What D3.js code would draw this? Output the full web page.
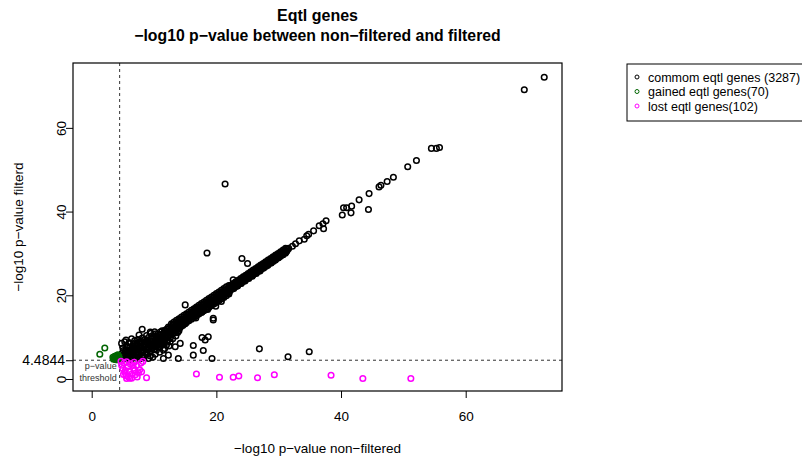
<!DOCTYPE html>
<html>
<head>
<meta charset="utf-8">
<script src="https://cdn.jsdelivr.net/npm/d3@7"></script>
<style>
  body { margin: 0; background: #fff; }
  svg text { font-family: "Liberation Sans", Arial, Helvetica, sans-serif; fill: #000; }
</style>
</head>
<body>
<div id="chart"></div>
<script>
// values
const threshold = 4.4844;
const xTicks = [0, 20, 40, 60];
const yTicks = [0, 20, 40, 60];
const legendLabels = ["commom eqtl genes (3287)", "gained eqtl genes(70)", "lost eqtl genes(102)"];

// common genes [non-filtered, filtered]
const commonPts = [
  // low cluster
  [4.7,5.0],[4.9,6.2],[5.0,7.4],[5.2,4.8],[5.3,5.9],[5.5,7.0],[5.6,8.0],[5.8,5.2],[5.9,6.4],[6.1,7.6],
  [6.2,4.7],[6.4,5.8],[6.5,7.1],[6.7,8.4],[6.8,6.0],[7.0,5.0],[7.1,7.3],[7.3,8.6],[7.4,6.4],[7.6,5.3],
  [7.7,7.8],[7.9,9.0],[8.0,6.8],[8.2,5.6],[8.3,8.2],[8.5,9.4],[8.6,7.2],[8.8,6.0],[8.9,8.6],[9.1,9.9],
  [9.2,7.6],[9.4,6.5],[9.5,9.0],[9.7,10.3],[9.8,8.1],[10.0,7.0],[10.2,9.5],[10.3,10.8],[10.5,8.6],[10.7,7.6],
  [10.8,10.0],[11.0,11.2],[11.2,9.1],[11.4,8.2],[11.5,10.5],[11.7,11.6],[11.9,9.7],[12.1,8.8],[12.2,11.0],[12.4,12.1],
  [5.0,5.6],[5.4,6.6],[5.7,7.5],[6.0,5.5],[6.3,6.6],[6.6,7.8],[6.9,6.9],[7.2,5.7],[7.5,7.0],[7.8,8.3],
  [8.1,6.2],[8.4,7.5],[8.7,8.9],[9.0,7.0],[9.3,8.3],[9.6,9.6],[9.9,7.5],[10.1,8.8],[10.4,10.2],[10.6,9.3],
  [10.9,8.4],[11.1,10.6],[11.3,9.7],[11.6,11.1],[11.8,10.2],[12.0,11.4],[12.3,10.4],[12.5,11.6],
  [6.0,8.7],[6.9,9.2],[7.4,9.4],[8.1,9.8],[8.8,10.4],[9.5,10.9],[10.1,11.3],
  [5.3,5.0],[6.6,5.2],[8.0,5.3],[9.4,5.5],[10.2,5.9],[10.9,6.4],[11.7,7.3],[12.4,7.9],[13.0,9.6],[13.5,10.3],[13.0,10.9],[14.0,11.5],
  [5.6,4.9],[6.3,4.7],[7.7,4.8],[8.4,5.1],[9.1,4.9],[9.8,5.2],[11.5,4.9],[13.9,4.9],
  [5.1,6.8],[5.7,6.0],[6.2,7.0],[6.5,6.2],[7.0,7.9],[7.3,6.6],[7.6,8.9],[7.9,7.4],[8.3,6.6],[8.6,8.1],
  [9.0,9.3],[9.2,8.5],[9.6,7.1],[9.9,9.1],[10.3,7.9],[10.6,10.7],[11.0,9.6],[11.3,11.5],[11.6,8.8],[12.0,10.0],
  [12.3,12.4],[12.6,9.8],[12.9,11.5],[13.3,11.0],[13.7,11.7],[14.2,12.3],[14.6,12.8],[15.0,13.2],[6.4,9.6],[5.5,9.3],
  [5.4,5.4],[5.9,5.8],[6.3,5.2],[6.7,6.6],[7.1,6.0],[7.5,5.8],[7.9,6.4],[8.3,7.0],[8.7,6.5],[9.1,7.3],
  [9.5,7.8],[9.9,8.4],[10.3,9.0],[10.7,8.2],[11.1,8.9],[11.5,9.4],[11.9,10.6],[12.2,9.3],[6.0,6.1],[6.8,7.4],
  [7.2,8.1],[8.0,8.6],[8.8,9.3],[9.7,9.7],[10.5,9.8],[11.3,10.2],[12.0,11.9],[12.7,10.5],[13.3,12.3],[13.8,11.1],
  // mid band
  [12.6,11.2],[12.8,12.1],[13.0,13.0],[13.2,11.8],[13.4,12.7],[13.6,13.6],[13.8,12.4],[14.0,13.3],[14.2,14.2],[14.4,13.0],
  [14.6,13.9],[14.8,14.8],[15.0,13.6],[15.2,14.5],[15.4,15.4],[15.6,14.2],[15.8,15.1],[16.0,16.0],[16.2,14.8],[16.4,15.7],
  [16.6,16.6],[16.8,15.4],[17.0,16.3],[17.2,17.2],[17.4,16.0],[17.6,16.9],[17.8,17.8],[18.0,16.6],[18.2,17.5],[18.4,18.4],
  [18.6,17.2],[18.8,18.1],[19.0,19.0],[19.2,17.8],[19.4,18.7],[19.6,19.6],[19.8,18.4],[20.0,19.3],[20.2,20.2],[20.4,19.0],
  [20.6,19.9],[20.8,20.8],[21.0,19.6],[21.2,20.5],[21.4,21.3],[21.6,20.3],[21.8,21.1],[22.0,21.8],
  [12.7,11.6],[12.7,12.3],[13.1,12.0],[13.1,12.8],[13.5,12.4],[13.5,13.2],[13.9,12.8],[13.9,13.6],[14.3,13.2],[14.3,14.0],
  [14.7,13.6],[14.7,14.4],[15.1,14.0],[15.1,14.8],[15.5,14.4],[15.5,15.2],[15.9,14.8],[15.9,15.6],[16.3,15.2],[16.3,16.0],
  [16.7,15.6],[16.7,16.4],[17.1,16.0],[17.1,16.8],[17.5,16.4],[17.5,17.2],[17.9,16.8],[17.9,17.6],[18.3,17.2],[18.3,18.0],
  [18.7,17.6],[18.7,18.4],[19.1,18.0],[19.1,18.8],[19.5,18.4],[19.5,19.2],[19.9,18.8],[19.9,19.6],[20.3,19.2],[20.3,20.0],
  [20.7,19.6],[20.7,20.4],[21.1,20.0],[21.1,20.8],[21.5,20.4],[21.5,21.2],[21.9,20.8],[21.9,21.6],
  [12.8,13.2],[12.8,11.1],[13.2,13.6],[13.2,11.5],[13.6,14.0],[13.6,11.9],[14.0,14.4],[14.0,12.3],[14.4,14.8],[14.4,12.7],
  [14.8,15.2],[14.8,13.1],[15.2,15.6],[15.2,13.5],[15.6,16.0],[15.6,13.9],[16.0,16.4],[16.0,14.3],[16.4,16.8],[16.4,14.7],
  [16.8,17.2],[16.8,15.1],[17.2,17.6],[17.2,15.5],[17.6,18.0],[17.6,15.9],[18.0,18.4],[18.0,16.3],[18.4,18.8],[18.4,16.7],
  [18.8,19.2],[18.8,17.1],[19.2,19.6],[19.2,17.5],[19.6,20.0],[19.6,17.9],[20.0,20.4],[20.0,18.3],[20.4,20.8],[20.4,18.7],
  [20.8,21.2],[20.8,19.1],[21.2,21.6],[21.2,19.5],[21.6,22.0],[21.6,19.9],[22.0,22.3],[22.0,20.4],
  // high band
  [22.2,21.1],[22.4,21.9],[22.6,22.4],[22.8,21.6],[23.0,22.5],[23.2,22.9],[23.4,22.2],[23.6,23.0],[23.8,23.4],[24.0,22.8],
  [24.2,23.6],[24.4,24.0],[24.6,23.4],[24.8,24.2],[25.0,24.6],[25.2,24.0],[25.4,24.8],[25.6,25.2],[25.8,24.6],[26.0,25.4],
  [26.2,25.8],[26.4,25.2],[26.6,26.0],[26.8,26.3],[27.0,25.8],[27.2,26.6],[27.4,26.9],[27.6,26.5],[27.8,27.2],[28.0,27.5],
  [28.2,27.1],[28.4,27.8],[28.6,28.1],[28.8,27.7],[29.0,28.4],[29.2,28.7],[29.4,28.4],[29.6,29.0],[29.8,29.3],[30.0,29.0],
  [30.2,29.6],[30.4,29.9],[30.6,29.7],[30.8,30.3],[31.0,30.6],[31.2,30.4],[31.4,30.9],[31.6,31.2],
  [22.1,21.4],[22.1,21.9],[22.5,21.8],[22.5,22.3],[22.9,22.2],[22.9,22.7],[23.3,22.6],[23.3,23.1],[23.7,23.0],[23.7,23.5],
  [24.1,23.4],[24.1,23.9],[24.5,23.8],[24.5,24.3],[24.9,24.2],[24.9,24.7],[25.3,24.6],[25.3,25.1],[25.7,25.0],[25.7,25.5],
  [26.1,25.4],[26.1,25.9],[26.5,25.8],[26.5,26.3],[26.9,26.2],[26.9,26.7],[27.3,26.6],[27.3,27.1],[27.7,27.0],[27.7,27.5],
  [28.1,27.4],[28.1,27.9],[28.5,27.8],[28.5,28.3],[28.9,28.2],[28.9,28.7],[29.3,28.6],[29.3,29.1],[29.7,29.0],[29.7,29.5],
  [30.1,29.4],[30.1,29.9],[30.5,29.8],[30.5,30.3],[30.9,30.2],[30.9,30.7],[31.3,30.6],[31.3,31.1],
  [22.3,22.4],[22.3,21.3],[22.7,22.8],[22.7,21.7],[23.1,23.2],[23.1,22.1],[23.5,23.6],[23.5,22.5],[23.9,24.0],[23.9,22.9],
  [24.3,24.4],[24.3,23.3],[24.7,24.8],[24.7,23.7],[25.1,25.2],[25.1,24.1],[25.5,25.6],[25.5,24.5],[25.9,26.0],[25.9,24.9],
  [26.3,26.4],[26.3,25.3],[26.7,26.8],[26.7,25.7],[27.1,27.2],[27.1,26.1],[27.5,27.6],[27.5,26.5],[27.9,28.0],[27.9,26.9],
  [28.3,28.4],[28.3,27.3],[28.7,28.8],[28.7,27.7],[29.1,29.2],[29.1,28.1],[29.5,29.6],[29.5,28.5],[29.9,30.0],[29.9,28.9],
  [30.3,30.4],[30.3,29.3],[30.7,30.8],[30.7,29.7],[31.1,31.2],[31.1,30.1],
  // sparse upper part
  [32.2,31.7],[32.7,32.3],[33.3,33.0],[34.1,33.4],[34.5,34.2],[34.8,34.6],[35.6,35.4],
  [36.5,36.6],[37.1,37.1],[37.6,37.8],[37.2,35.9],[40.2,39.2],[40.4,40.9],[40.9,40.9],[41.6,39.7],[41.7,41.3],
  [42.9,42.8],[44.4,40.5],[44.5,44.3],[46.1,45.9],[46.4,46.3],[47.4,47.2],[48.4,48.2],[50.7,50.7],[52.1,52.2],
  [54.5,55.1],[55.3,55.1],[55.8,55.3],[69.4,69.1],[72.6,72.1],
  // off-diagonal
  [21.4,46.6],[18.5,30.1],[24.1,28.8],[25.0,27.6],[22.7,23.7],
  [15.0,17.7],[16.8,16.9],[8.1,11.9],[7.6,10.5],[9.4,11.2],[4.8,8.5],[5.3,8.9],
  [16.7,14.6],[17.7,16.0],[18.6,16.6],[19.5,14.5],[19.9,17.4],[20.8,18.5],[22.0,20.3],
  [17.7,9.9],[18.7,10.1],[10.7,10.1],[12.3,10.1],[12.6,8.9],[13.4,7.7],[14.2,8.5],[11.0,7.7],[12.0,8.1],
  [16.3,8.0],[16.3,5.7],[17.9,6.8],[19.3,4.9],[18.2,9.3],[19.5,14.1],[11.5,6.9],[12.3,5.7],[10.4,6.9],
  [26.9,7.2],[31.5,5.3],[34.9,6.5]
];

// gained genes
const gainedPts = [
  [3.6,5.0],[3.7,5.4],[3.8,4.7],[3.9,5.2],[4.0,4.9],[4.0,5.6],[4.1,4.6],[4.1,5.3],[4.2,5.0],[4.2,4.7],
  [4.3,5.5],[4.3,4.8],[4.4,5.1],[4.4,4.6],[3.5,4.7],[3.4,5.2],[3.9,4.6],[4.2,5.8],[3.7,4.9],[4.35,5.3],
  [2.1,7.4],[1.3,5.9]
];

// lost genes
const lostPts = [
  [4.7,4.2],[4.8,3.3],[5.0,2.5],[5.2,3.8],[5.3,1.6],[5.5,0.8],[5.6,4.1],[5.6,0.1],[5.8,2.9],[5.9,0.5],
  [6.0,1.9],[6.1,0.2],[6.2,3.6],[6.4,1.2],[6.4,0.2],[6.7,2.6],[6.8,4.0],[7.0,1.0],[7.2,3.2],[7.5,1.5],
  [7.7,2.2],[7.9,3.8],[8.0,1.7],[8.2,4.2],[8.8,0.3],[5.4,2.0],[6.6,3.3],[7.3,0.5],[5.1,1.1],[6.9,2.0],
  [16.8,1.2],[20.5,0.4],[22.7,0.4],[23.6,0.7],[26.6,0.3],[29.3,1.0],[38.4,0.9],[43.5,0.1],[51.2,0.1]
];

const seriesColors = ["#000000", "#006400", "#ff00ff"];

const W = 802, H = 460;
const box = { left: 73, right: 562, top: 63, bottom: 391 };

const svg = d3.select("#chart").append("svg")
    .attr("width", W)
    .attr("height", H);

const x = d3.scaleLinear().domain([-3.0, 75.45]).range([box.left, box.right]);
const y = d3.scaleLinear().domain([-2.87, 75.5]).range([box.bottom, box.top]);

// title
svg.append("text")
    .attr("x", (box.left + box.right) / 2).attr("y", 21)
    .attr("text-anchor", "middle")
    .style("font-size", "16px").style("font-weight", "bold")
    .text("Eqtl genes");
svg.append("text")
    .attr("x", (box.left + box.right) / 2).attr("y", 41)
    .attr("text-anchor", "middle")
    .style("font-size", "15.8px").style("font-weight", "bold")
    .text("\u2212log10 p\u2212value between non\u2212filtered and filtered");

// axes
const xAxis = svg.append("g")
    .attr("transform", `translate(0,${box.bottom})`)
    .call(d3.axisBottom(x).tickValues(xTicks).tickSize(7).tickPadding(13).tickFormat(d3.format("d")));
xAxis.select(".domain").remove();
xAxis.selectAll("text").style("font-size", "13.5px").attr("fill", "#000");

const yAxis = svg.append("g")
    .attr("transform", `translate(${box.left},0)`)
    .call(d3.axisLeft(y).tickValues(yTicks).tickSize(7).tickFormat(d3.format("d")));
yAxis.select(".domain").remove();
yAxis.selectAll("text")
    .attr("x", 0).attr("dy", 0)
    .attr("text-anchor", "middle")
    .attr("transform", "translate(-7,0) rotate(-90)")
    .style("font-size", "13.5px").attr("fill", "#000");

const tAxis = svg.append("g")
    .attr("transform", `translate(${box.left},0)`)
    .call(d3.axisLeft(y).tickValues([threshold]).tickSize(7).tickPadding(1).tickFormat(d => d));
tAxis.select(".domain").remove();
tAxis.selectAll("text").style("font-size", "14px").attr("fill", "#000");

svg.selectAll(".tick line").attr("stroke", "#000");

// axis titles
svg.append("text")
    .attr("x", (box.left + box.right) / 2).attr("y", 453)
    .attr("text-anchor", "middle")
    .style("font-size", "13.5px")
    .text("\u2212log10 p\u2212value non\u2212filtered");
svg.append("text")
    .attr("transform", `translate(23,${(box.top + box.bottom) / 2}) rotate(-90)`)
    .attr("text-anchor", "middle")
    .style("font-size", "13.5px")
    .text("\u2212log10 p\u2212value filterd");

// threshold lines
const plot = svg.append("g");
plot.append("line")
    .attr("x1", x(threshold)).attr("x2", x(threshold))
    .attr("y1", box.top).attr("y2", box.bottom)
    .attr("stroke", "#333").attr("stroke-dasharray", "3,3");
plot.append("line")
    .attr("x1", box.left).attr("x2", box.right)
    .attr("y1", y(threshold)).attr("y2", y(threshold))
    .attr("stroke", "#333").attr("stroke-dasharray", "3,3");

// points
[commonPts, gainedPts, lostPts].forEach((pts, i) => {
    plot.append("g").selectAll("circle")
        .data(pts)
        .enter().append("circle")
        .attr("cx", d => x(d[0]))
        .attr("cy", d => y(d[1]))
        .attr("r", 2.8)
        .attr("fill", "none")
        .attr("stroke", seriesColors[i])
        .attr("stroke-width", 1.5);
});

// threshold note
plot.append("text")
    .attr("x", x(threshold) - 3).attr("y", 369)
    .attr("text-anchor", "end")
    .style("font-size", "9px").style("fill", "#333")
    .text("p\u2212value");
plot.append("text")
    .attr("x", x(threshold) - 3).attr("y", 381)
    .attr("text-anchor", "end")
    .style("font-size", "9px").style("fill", "#333")
    .text("threshold");

// plot box
svg.append("rect")
    .attr("x", box.left).attr("y", box.top)
    .attr("width", box.right - box.left).attr("height", box.bottom - box.top)
    .attr("fill", "none").attr("stroke", "#000").attr("stroke-width", 1.2);

// legend
const legend = svg.append("g");
legend.append("rect")
    .attr("x", 627).attr("y", 64)
    .attr("width", 200).attr("height", 57)
    .attr("fill", "none").attr("stroke", "#000");
legendLabels.forEach((label, i) => {
    const ly = 77 + i * 14.5;
    legend.append("circle")
        .attr("cx", 637).attr("cy", ly).attr("r", 2)
        .attr("fill", "none").attr("stroke", seriesColors[i]).attr("stroke-width", 1);
    legend.append("text")
        .attr("x", 648).attr("y", ly + 4.5)
        .style("font-size", "12.5px")
        .text(label);
});
</script>
</body>
</html>
